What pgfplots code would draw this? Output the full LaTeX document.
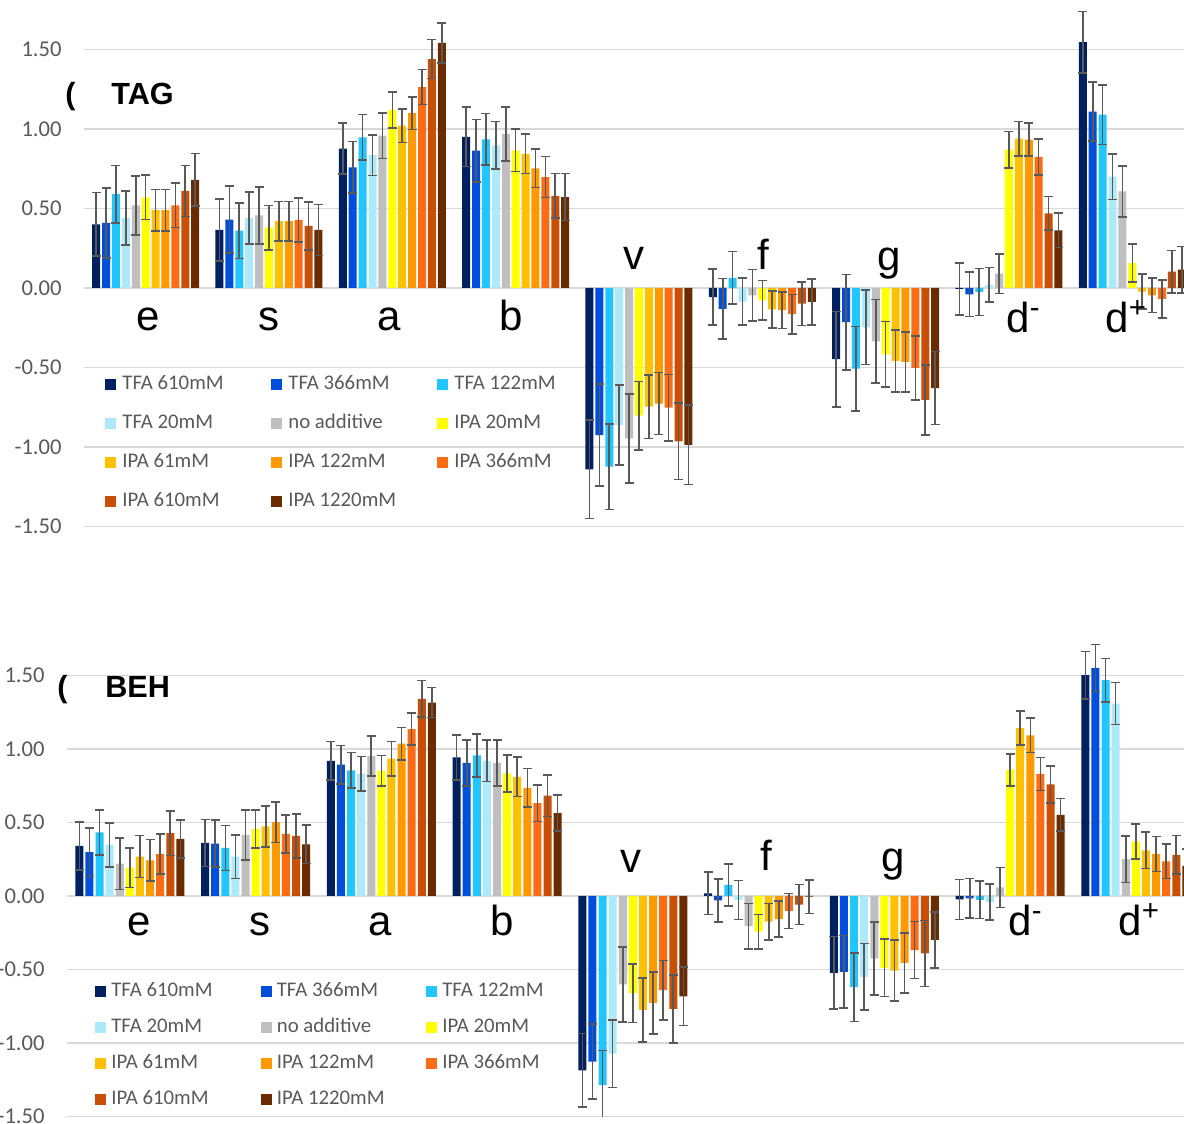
\documentclass[border=0pt]{standalone}
\usepackage{fontspec}
\setmainfont{Carlito}
\newfontfamily\arial{Liberation Sans}
\usepackage{pgfplots}
\usepackage{pgfplotstable}
\pgfplotsset{compat=1.18}

\definecolor{c1}{HTML}{002060}
\definecolor{c2}{HTML}{004FDC}
\definecolor{c3}{HTML}{21C6FF}
\definecolor{c4}{HTML}{AEE9FA}
\definecolor{c5}{HTML}{BFBFBF}
\definecolor{c6}{HTML}{FFFF00}
\definecolor{c7}{HTML}{FFC000}
\definecolor{c8}{HTML}{FF9900}
\definecolor{c9}{HTML}{FC6C14}
\definecolor{c10}{HTML}{CA4F06}
\definecolor{c11}{HTML}{6B2B00}
\definecolor{errgray}{HTML}{595959}
\definecolor{gridgray}{HTML}{D9D9D9}
\definecolor{labgray}{HTML}{595959}

% TAG panel: v = bar value, e = +/- error
\pgfplotstableread{
x v1 v2 v3 v4 v5 v6 v7 v8 v9 v10 v11 e1 e2 e3 e4 e5 e6 e7 e8 e9 e10 e11
0 0.40 0.41 0.59 0.44 0.52 0.57 0.49 0.49 0.52 0.61 0.68 0.20 0.22 0.18 0.17 0.185 0.14 0.13 0.13 0.14 0.16 0.165
1 0.365 0.43 0.36 0.44 0.457 0.38 0.42 0.42 0.428 0.39 0.365 0.195 0.21 0.175 0.165 0.18 0.14 0.125 0.125 0.137 0.15 0.16
2 0.876 0.759 0.948 0.836 0.958 1.12 1.021 1.099 1.264 1.44 1.541 0.16 0.163 0.143 0.128 0.144 0.113 0.105 0.103 0.11 0.122 0.126
3 0.95 0.864 0.935 0.897 0.969 0.866 0.843 0.753 0.698 0.579 0.572 0.187 0.196 0.163 0.15 0.169 0.133 0.124 0.12 0.13 0.14 0.148
4 -1.14 -0.925 -1.124 -0.862 -0.946 -0.803 -0.746 -0.727 -0.753 -0.964 -0.987 0.31 0.32 0.27 0.25 0.28 0.216 0.2 0.195 0.21 0.24 0.25
5 -0.058 -0.131 0.064 -0.085 -0.046 -0.078 -0.135 -0.14 -0.164 -0.099 -0.088 0.176 0.19 0.165 0.146 0.163 0.124 0.116 0.115 0.124 0.138 0.144
6 -0.447 -0.214 -0.507 -0.247 -0.335 -0.417 -0.459 -0.465 -0.503 -0.704 -0.629 0.30 0.30 0.265 0.233 0.263 0.207 0.195 0.19 0.2 0.22 0.23
7 -0.005 -0.04 -0.025 0.02 0.09 0.87 0.939 0.933 0.824 0.47 0.363 0.164 0.14 0.147 0.11 0.124 0.115 0.108 0.104 0.113 0.105 0.109
8 1.547 1.109 1.09 0.70 0.608 0.157 -0.023 -0.046 -0.069 0.103 0.115 0.193 0.185 0.188 0.143 0.16 0.12 0.11 0.109 0.118 0.134 0.145
}\toptable

% BEH panel
\pgfplotstableread{
x v1 v2 v3 v4 v5 v6 v7 v8 v9 v10 v11 e1 e2 e3 e4 e5 e6 e7 e8 e9 e10 e11
0 0.341 0.298 0.432 0.348 0.22 0.193 0.268 0.243 0.286 0.427 0.389 0.164 0.166 0.155 0.15 0.175 0.134 0.143 0.14 0.136 0.152 0.13
1 0.361 0.357 0.327 0.268 0.416 0.457 0.473 0.502 0.423 0.409 0.352 0.16 0.16 0.153 0.148 0.17 0.13 0.14 0.139 0.13 0.15 0.13
2 0.92 0.893 0.855 0.832 0.952 0.852 0.934 1.036 1.136 1.341 1.316 0.132 0.13 0.12 0.118 0.137 0.103 0.116 0.11 0.107 0.124 0.103
3 0.943 0.905 0.957 0.92 0.905 0.834 0.811 0.736 0.632 0.682 0.564 0.152 0.156 0.147 0.14 0.158 0.125 0.133 0.13 0.125 0.142 0.123
4 -1.186 -1.127 -1.286 -1.073 -0.602 -0.661 -0.775 -0.727 -0.641 -0.768 -0.682 0.25 0.256 0.235 0.23 0.257 0.2 0.217 0.212 0.203 0.232 0.2
5 0.018 -0.03 0.075 -0.027 -0.205 -0.243 -0.175 -0.157 -0.102 -0.059 -0.005 0.145 0.146 0.141 0.132 0.155 0.117 0.125 0.123 0.118 0.136 0.114
6 -0.523 -0.516 -0.62 -0.55 -0.425 -0.489 -0.507 -0.455 -0.368 -0.391 -0.298 0.247 0.247 0.233 0.226 0.25 0.195 0.209 0.205 0.194 0.224 0.19
7 -0.023 -0.016 -0.026 -0.042 0.059 0.859 1.143 1.093 0.83 0.759 0.552 0.136 0.134 0.128 0.122 0.136 0.109 0.117 0.116 0.111 0.127 0.11
8 1.502 1.552 1.468 1.309 0.25 0.37 0.311 0.286 0.236 0.28 0.205 0.16 0.16 0.148 0.143 0.159 0.118 0.124 0.12 0.116 0.131 0.116
}\bottable

\pgfplotsset{
  mysq/.style={legend image code/.code={\fill[##1] (0pt,-2.75pt) rectangle (5.5pt,2.75pt);}},
  panel/.style={
    scale only axis,
    bar width=4pt,
    xmin=-0.5, xmax=8.5,
    ymin=-1.5, ymax=1.8,
    xtick=\empty,
    ytick={-1.5,-1,-0.5,0,0.5,1,1.5},
    yticklabels={-1.50,-1.00,-0.50,0.00,0.50,1.00,1.50},
    ymajorgrids,
    grid style={gridgray, line width=0.75pt},
    axis line style={draw=none},
    major tick length=0pt,
    tick style={draw=none},
    yticklabel style={font=\fontsize{11.3}{13}\selectfont, text=labgray, anchor=east, inner sep=0pt, xshift=-11pt},
    legend cell align=left,
  },
  errs/.style={
    error bars/.cd, y dir=both, y explicit,
    error bar style={line width=0.8pt, color=errgray},
    error mark options={rotate=90, mark size=2.25pt, line width=0.8pt, color=errgray},
  },
}

\newcommand\lgA[1]{\makebox[77.5pt][l]{\hspace{3pt}#1}}
\newcommand\lgB[1]{\makebox[77.25pt][l]{\hspace{2.5pt}#1}}

\begin{document}
\begin{tikzpicture}
\useasboundingbox (0,0) rectangle (592pt,562pt);
\clip (0,0) rectangle (592pt,562pt);

% ---------- TAG ----------
\begin{axis}[panel,
  at={(42pt,298.75pt)}, anchor=south west,
  width=555pt, height=262.35pt,
  ybar=0.95pt,
  legend style={at={(axis description cs:0.0189,0.2877)}, anchor=north west,
    draw=none, fill=none, inner sep=0pt, legend columns=3, row sep=10.35pt,
    nodes={inner sep=0pt, text height=7pt, text depth=2pt, text=labgray,
      font=\fontsize{10.4}{12}\selectfont}},
]
\pgfplotsinvokeforeach{1,...,11}{
  \addplot[fill=c#1, draw=none, mysq, errs] table[x=x, y=v#1, y error=e#1]{\toptable};
}
\legend{\lgA{TFA 610mM},\lgA{TFA 366mM},\lgA{TFA 122mM},\lgA{TFA 20mM},\lgA{no additive},\lgA{IPA 20mM},\lgA{IPA 61mM},\lgA{IPA 122mM},\lgA{IPA 366mM},\lgA{IPA 610mM},\lgA{IPA 1220mM}}
\end{axis}

% ---------- BEH ----------
\begin{axis}[panel,
  at={(33.5pt,3.75pt)}, anchor=south west,
  width=565.875pt, height=242.55pt,
  ybar=1.05pt,
  legend style={at={(axis description cs:0.0247,0.2762)}, anchor=north west,
    draw=none, fill=none, inner sep=0pt, legend columns=3, row sep=8.85pt,
    nodes={inner sep=0pt, text height=7pt, text depth=2pt, text=labgray,
      font=\fontsize{10.4}{12}\selectfont}},
]
\pgfplotsinvokeforeach{1,...,11}{
  \addplot[fill=c#1, draw=none, mysq, errs] table[x=x, y=v#1, y error=e#1]{\bottable};
}
\legend{\lgB{TFA 610mM},\lgB{TFA 366mM},\lgB{TFA 122mM},\lgB{TFA 20mM},\lgB{no additive},\lgB{IPA 20mM},\lgB{IPA 61mM},\lgB{IPA 122mM},\lgB{IPA 366mM},\lgB{IPA 610mM},\lgB{IPA 1220mM}}
\end{axis}

% ---------- labels ----------
\begin{scope}[every node/.style={inner sep=0pt, font=\arial\fontsize{21}{21}\selectfont}]
\node[anchor=base] at (74pt,396.5pt) {e};
\node[anchor=base] at (134.5pt,396.5pt) {s};
\node[anchor=base] at (194.5pt,396.5pt) {a};
\node[anchor=base] at (255.5pt,396.5pt) {b};
\node[anchor=base] at (317pt,427pt) {v};
\node[anchor=base] at (381.5pt,427pt) {f};
\node[anchor=base] at (444.5pt,426.5pt) {g};
\node[anchor=base west] at (503pt,395.5pt) {d\textsuperscript{-}};
\node[anchor=base west] at (552.5pt,395.5pt) {d\textsuperscript{+}};

\node[anchor=base] at (69.5pt,94pt) {e};
\node[anchor=base] at (130pt,94pt) {s};
\node[anchor=base] at (190pt,94pt) {a};
\node[anchor=base] at (251pt,94pt) {b};
\node[anchor=base] at (315.5pt,125.5pt) {v};
\node[anchor=base] at (383pt,126.5pt) {f};
\node[anchor=base] at (446.5pt,126pt) {g};
\node[anchor=base west] at (504pt,94pt) {d\textsuperscript{-}};
\node[anchor=base west] at (559pt,94pt) {d\textsuperscript{+}};
\end{scope}

\begin{scope}[every node/.style={inner sep=0pt, font=\arial\bfseries\fontsize{15.3}{16}\selectfont}]
\node[anchor=base west] at (32.5pt,509.5pt) {(};
\node[anchor=base west] at (55.5pt,509.5pt) {TAG};
\node[anchor=base west] at (28.5pt,213pt) {(};
\node[anchor=base west] at (52.5pt,213pt) {BEH};
\end{scope}
\end{tikzpicture}
\end{document}
